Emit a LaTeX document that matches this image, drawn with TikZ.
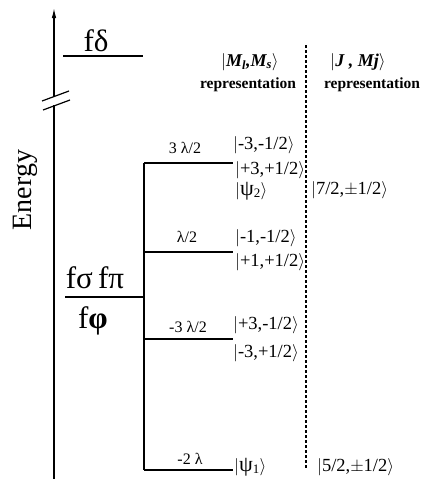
\documentclass[tikz,border=0pt]{standalone}
\usepackage{amsmath}
\usepackage{fontspec}
\setmainfont{Liberation Serif}
\usepackage{tikz}
\usetikzlibrary{arrows.meta,positioning}

\begin{document}
\begin{tikzpicture}[
    x=1pt,y=-1pt,
    level/.style={line width=1.2pt},
    axis/.style={line width=1.2pt,-{Latex[length=10pt,width=4.5pt]}},
    split/.style={font=\fontsize{16}{16}\selectfont,inner sep=0pt},
    ket/.style={anchor=west,inner sep=0pt,font=\fontsize{18.5}{18.5}\selectfont},
    orbital/.style={font=\fontsize{31}{31}\selectfont,inner sep=0pt},
    head/.style={inner sep=0pt,font=\fontsize{18}{18}\selectfont\bfseries\itshape},
    rep/.style={inner sep=0pt,font=\fontsize{15.5}{15.5}\selectfont\bfseries}
  ]
    \useasboundingbox (0,0) rectangle (425,479);

    % energy axis with a break
    \coordinate (axbot) at (54,479);
    \coordinate (gaplo) at (54,105);
    \coordinate (gaphi) at (54,96);
    \coordinate (axtop) at (54,8);
    \draw[level] (axbot) -- (gaplo);
    \draw[axis] (gaphi) -- (axtop);
    \draw[level] (42,101) -- (69,91);
    \draw[level] (43,110) -- (70,100);
    \node[rotate=90,font=\fontsize{28}{28}\selectfont,inner sep=0pt] (energy) at (25,190) {Energy};

    % f delta level
    \coordinate (fdl) at (63,56);
    \coordinate (fdr) at (143,56);
    \draw[level] (fdl) -- (fdr);
    \node[orbital] (fdelta) at (96,41) {fδ};

    % f sigma, f pi, f phi level
    \coordinate (fsl) at (65,297);
    \coordinate (fsr) at (144,297);
    \draw[level] (fsl) -- (fsr);
    \node[orbital] (fsigpi) at (95,278) {fσ\,fπ};
    \node[orbital] (fphi) at (93,321) {f\textbf{φ}};

    % spin-orbit splitting
    \coordinate (la) at (144,163);
    \coordinate (lb) at (144,252);
    \coordinate (lc) at (144,339);
    \coordinate (ld) at (144,470);
    \draw[level] (la) -- (ld);
    \draw[level] (la) -- ++(89,0);
    \draw[level] (lb) -- ++(89,0);
    \draw[level] (lc) -- ++(89,0);
    \draw[level] (ld) -- ++(89,0);
    \node[split] (sa) at (185,148) {3 λ/2};
    \node[split] (sb) at (187,237) {λ/2};
    \node[split] (sc) at (188,327) {-3 λ/2};
    \node[split] (sd) at (190,459) {-2 λ};

    % |Ml,Ms> states
    \node[ket] (ka1) at (233,145) {$|$-3,-1/2$\rangle$};
    \node[ket] (ka2) at (235,170) {$|$+3,+1/2$\rangle$};
    \node[ket] (psi2) at (235,191) {$|${\fontsize{22}{22}\selectfont ψ}\textsubscript{2}$\rangle$};
    \node[ket] (kb1) at (235,238) {$|$-1,-1/2$\rangle$};
    \node[ket] (kb2) at (235,262) {$|$+1,+1/2$\rangle$};
    \node[ket] (kc1) at (233,325) {$|$+3,-1/2$\rangle$};
    \node[ket] (kc2) at (233,353) {$|$-3,+1/2$\rangle$};
    \node[ket] (psi1) at (234,467) {$|${\fontsize{22}{22}\selectfont ψ}\textsubscript{1}$\rangle$};

    % |J,Mj> states
    \node[ket] (j72) at (311,190) {$|$7/2,$\pm$1/2$\rangle$};
    \node[ket] (j52) at (317,467) {$|$5/2,$\pm$1/2$\rangle$};

    % headings
    \node[head] (hml) at (250,62) {$|$M\textsubscript{l},M\textsubscript{s}$\rangle$};
    \node[head] (hj) at (358,62) {$|$J , Mj$\rangle$};
    \node[rep] (rml) at (248,85) {representation};
    \node[rep] (rj) at (372,85) {representation};

    % divider
    \coordinate (dtop) at (306,45);
    \coordinate (dbot) at (306,468);
    \draw[line width=1.1pt,dash pattern=on 3pt off 2pt] (dtop) -- (dbot);
  \end{tikzpicture}
\end{document}
